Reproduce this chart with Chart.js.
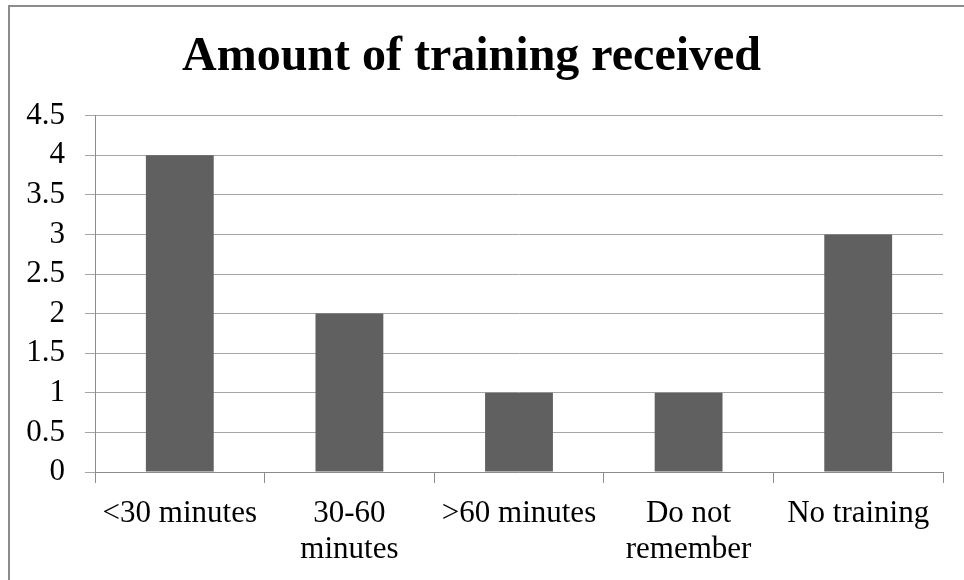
<!DOCTYPE html>
<html>
<head>
<meta charset="utf-8">
<script src="https://cdn.jsdelivr.net/npm/chart.js@4/dist/chart.umd.min.js"></script>
<style>
html,body{margin:0;padding:0;background:#fff;}
#c{display:block;}
</style>
</head>
<body>
<canvas id="c" width="964" height="580"></canvas>
<script>
const categories = [["<30 minutes"], ["30-60", "minutes"], [">60 minutes"], ["Do not", "remember"], ["No training"]];
const counts = [4, 2, 1, 1, 3];
const chartTitle = "Amount of training received";
const yMin = 0, yMax = 4.5, yStep = 0.5;

const frame = {
  id: 'frame',
  beforeDraw(chart) {
    const ctx = chart.ctx;
    ctx.save();
    ctx.fillStyle = '#fff';
    ctx.fillRect(0, 0, chart.width, chart.height);
    ctx.strokeStyle = '#8c8c8c';
    ctx.lineWidth = 2;
    ctx.strokeRect(9, 6, 1000, 1000);
    ctx.restore();
  }
};

Chart.defaults.font.family = "'Liberation Serif', 'Times New Roman', serif";
Chart.defaults.color = '#000';

new Chart(document.getElementById('c'), {
  type: 'bar',
  data: {
    labels: categories,
    datasets: [{
      data: counts,
      backgroundColor: '#606060',
      borderWidth: 0,
      barPercentage: 0.4,
      categoryPercentage: 1.0
    }]
  },
  options: {
    responsive: false,
    animation: false,
    layout: { padding: { left: 0, right: 21, top: 0, bottom: 0 } },
    plugins: {
      legend: { display: false },
      tooltip: { enabled: false },
      title: {
        display: true,
        text: chartTitle,
        color: '#000',
        font: { size: 48, weight: 'bold', family: "'Liberation Serif', 'Times New Roman', serif", lineHeight: 1.2 },
        padding: { top: 29, bottom: 29 }
      }
    },
    scales: {
      x: {
        grid: { display: true, drawOnChartArea: false, drawTicks: true, tickLength: 11, color: '#8c8c8c', offset: true },
        border: { display: true, color: '#8c8c8c', width: 1 },
        ticks: { autoSkip: false, maxRotation: 0, minRotation: 0, padding: 13, font: { size: 31, lineHeight: 1.15 } },
        afterFit(scale) { scale.height = 108; }
      },
      y: {
        min: yMin, max: yMax,
        grid: { color: '#a6a6a6', tickLength: 10, lineWidth: 1 },
        border: { display: true, color: '#8c8c8c', width: 1 },
        ticks: { stepSize: yStep, autoSkip: false, maxTicksLimit: 20, padding: 20, font: { size: 31, lineHeight: 1 }, callback: (v) => String(v) },
        afterFit(scale) { scale.width = 95; }
      }
    }
  },
  plugins: [frame]
});
</script>
</body>
</html>
